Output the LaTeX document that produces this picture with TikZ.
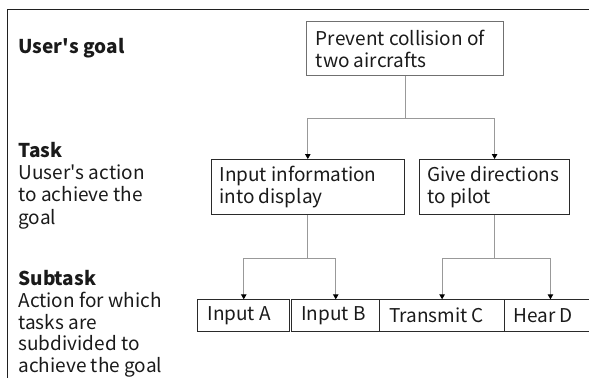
\documentclass[tikz,border=0pt]{standalone}
\usepackage{fontspec}
\setmainfont{Noto Sans CJK JP}
\usetikzlibrary{arrows.meta}
\definecolor{textc}{HTML}{1A1A1A}
\definecolor{connc}{HTML}{999999}
\definecolor{goalc}{HTML}{707070}
\definecolor{boxc}{HTML}{2A2A2A}
\definecolor{edgec}{HTML}{202020}
\tikzset{
  txt/.style={font=\fontsize{19}{21.8}\selectfont, text=textc, inner sep=0pt},
  head/.style={txt, font=\fontsize{19}{21.8}\selectfont\bfseries, anchor=base west},
  desc/.style={txt, anchor=base west},
  inbox/.style={txt, anchor=west, align=left},
  box/.style={draw=boxc, line width=0.9pt, anchor=north west, inner sep=0pt},
  goalbox/.style={box, draw=goalc, line width=1.2pt},
  conn/.style={draw=connc, line width=0.9pt},
  arr/.style={conn, -{Triangle[length=5pt,width=5.5pt,color=black]}},
  edgefill/.style={fill=edgec},
}
\begin{document}
\begin{tikzpicture}[x=1pt,y=-1pt]
\useasboundingbox (0,0) rectangle (589,378);
% outer frame as thin filled bars (top and left edges only)
\fill[edgefill] (6.8,8.8) rectangle (589,10.2);
\fill[edgefill] (6.8,8.8) rectangle (8.2,378);
% left labels
\node[head] (lgoal) at (18.3,53.3) {User\textquotesingle s goal};
\node[head] (ltask) at (18.3,157.3) {Task};
\node[desc] (ltask1) at (18.3,179.5) {Uuser\textquotesingle s action};
\node[desc] (ltask2) at (18.3,201.8) {to achieve the};
\node[desc] (ltask3) at (18.3,224) {goal};
\node[head] (lsub) at (18.3,285.5) {Subtask};
\node[desc] (lsub1) at (18.3,307.3) {Action for which};
\node[desc] (lsub2) at (18.3,329) {tasks are};
\node[desc] (lsub3) at (18.3,350.6) {subdivided to};
\node[desc] (lsub4) at (18.3,372.2) {achieve the goal};
% boxes
\node[goalbox, minimum width=197pt, minimum height=54.5pt] (goal) at (306,20.7) {};
\node[inbox] (goalt) at ([xshift=9.7pt]goal.west) {Prevent collision of\\two aircrafts};
\node[box, minimum width=193.3pt, minimum height=55pt] (task1) at (210.7,159) {};
\node[inbox] (task1t) at ([xshift=8.6pt]task1.west) {Input information\\into display};
\node[box, minimum width=150.3pt, minimum height=55pt] (task2) at (419,159) {};
\node[inbox] (task2t) at ([xshift=8.3pt]task2.west) {Give directions\\to pilot};
\node[box, minimum width=92pt, minimum height=32pt] (subA) at (197.3,299.3) {};
\node[inbox] (subAt) at ([xshift=10pt]subA.west) {Input A};
\node[box, minimum width=88pt, minimum height=32pt] (subB) at (291.3,299.3) {};
\node[inbox] (subBt) at ([xshift=9.7pt]subB.west) {Input B};
\node[box, minimum width=124.7pt, minimum height=32pt] (subC) at (379.3,299.3) {};
\node[inbox] (subCt) at ([xshift=9.7pt]subC.west) {Transmit C};
\node[box, minimum width=92pt, minimum height=32pt] (subD) at (504,299.3) {};
\node[inbox] (subDt) at ([xshift=9.3pt]subD.west) {Hear D};
% connectors
\path (goal.south) ++(0,42.3) coordinate (j1);
\path (task1.south) ++(0,43.3) coordinate (j2);
\path (task2.south) ++(0,43.3) coordinate (j3);
\draw[conn] (goal.south) -- (j1);
\draw[arr] (j1) -| (task1.north);
\draw[arr] (j1) -| (task2.north);
\draw[conn] (task1.south) -- (j2);
\draw[arr] (j2) -| (subA.north);
\draw[arr] (j2) -| (subB.north);
\draw[conn] (task2.south) -- (j3);
\draw[arr] (j3) -| (subC.north);
\draw[arr] (j3) -| (subD.north);
\end{tikzpicture}
\end{document}
